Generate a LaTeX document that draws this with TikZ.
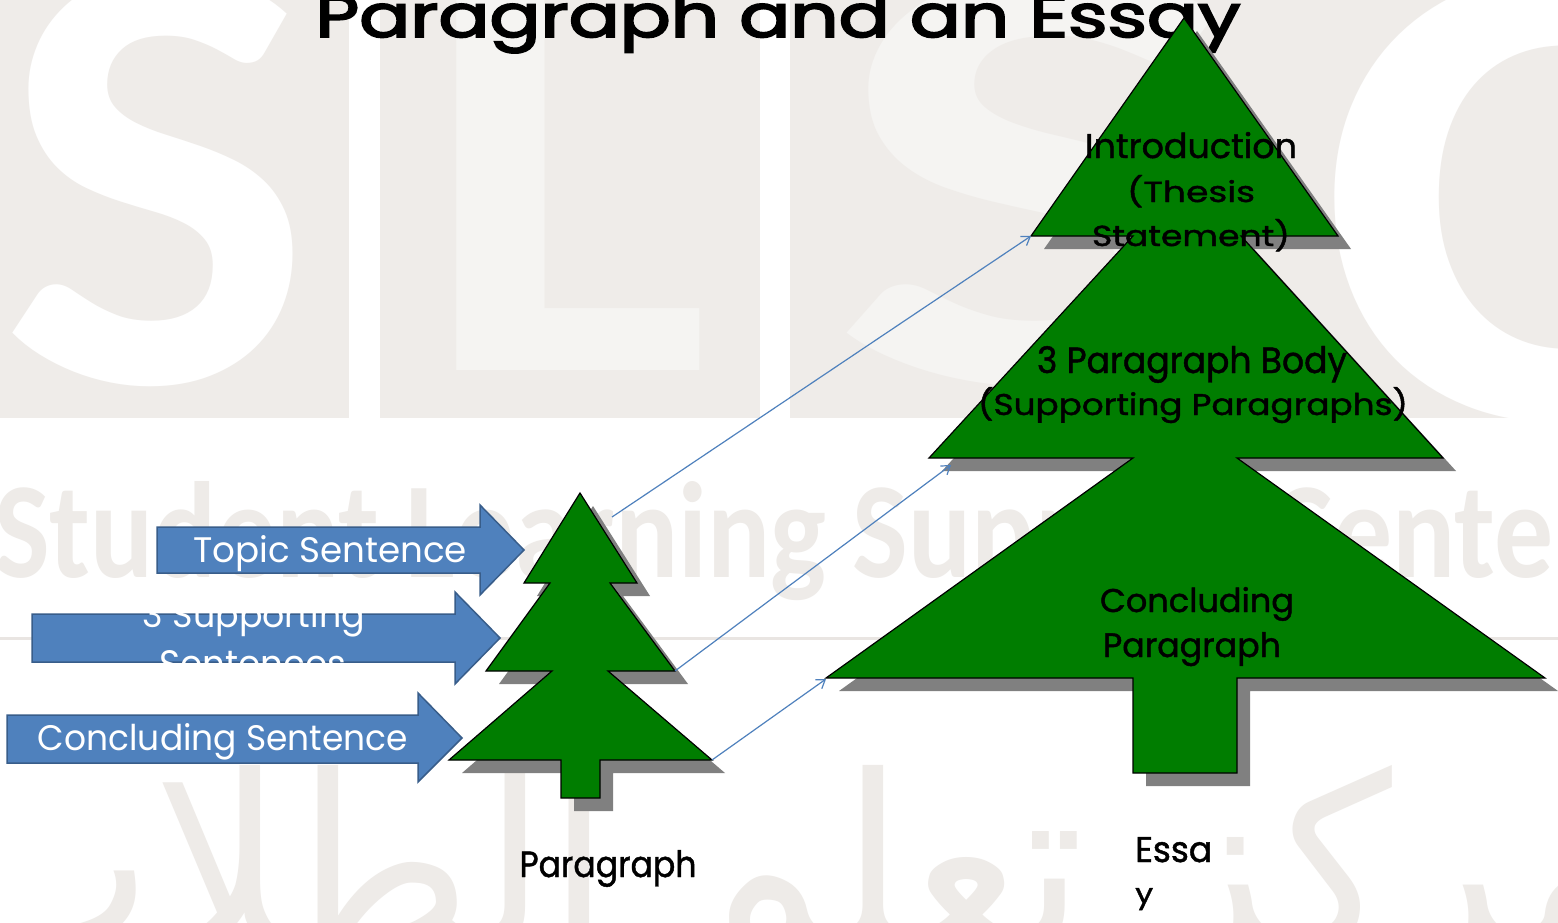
\documentclass[tikz,border=0pt]{standalone}
\usepackage{fontspec}
\usepackage{graphicx}
\usetikzlibrary{arrows.meta}
\newfontfamily\hand{Poppins}
\newfontfamily\handb[FakeBold=1.3]{Poppins}
\newfontfamily\handt[FakeBold=3]{Poppins}
\newfontfamily\wm{Carlito}
\newfontfamily\arabicfont[Script=Arabic]{DejaVu Sans}
\TeXXeTstate=1
\newcommand\fitt[3]{\resizebox{#1pt}{#2pt}{\hand #3}}
\newcommand\fitb[3]{\resizebox{#1pt}{#2pt}{\handb #3}}
\newcommand\fitwm[3]{\resizebox{#1pt}{#2pt}{\wm\bfseries #3}}
\definecolor{treegreen}{RGB}{0,125,0}
\definecolor{shadowgrey}{RGB}{128,128,128}
\definecolor{arrowblue}{RGB}{79,129,189}
\definecolor{arrowedge}{RGB}{56,93,138}
\definecolor{connblue}{RGB}{79,129,189}
\definecolor{band}{RGB}{239,236,233}
\definecolor{bandlight}{RGB}{245,244,242}
\definecolor{wmgrey}{RGB}{238,235,232}
\definecolor{wmline}{RGB}{233,229,226}
\newcommand\smalltree{(580,493) -- (637,583) -- (610,583) -- (675,671) -- (608,671) -- (712,760) -- (600,760) -- (600,798) -- (561,798) -- (561,760) -- (449,760) -- (552,671) -- (486,671) -- (550,583) -- (524,583) -- cycle}
\newcommand\bigtree{(1184,18) -- (1338,236) -- (1241,236) -- (1443,458) -- (1237,458) -- (1545,678) -- (1237,678) -- (1237,773) -- (1133,773) -- (1133,678) -- (826,678) -- (1133,458) -- (929,458) -- (1133,236) -- (1031,236) -- cycle}
\begin{document}
\begin{tikzpicture}[x=1pt,y=-1pt,
  tree/.style={fill=treegreen, draw=black, line width=1.2pt, line join=miter},
  treeshadow/.style={fill=shadowgrey},
  blockarrow/.style={fill=arrowblue, draw=arrowedge, line width=1.5pt, line join=miter},
  conn/.style={draw=connblue, line width=1.2pt, -{Straight Barb[length=8pt,width=11pt]}},
  lbl/.style={inner sep=0pt, anchor=base},
  wmark/.style={inner sep=0pt}]
\useasboundingbox (0,0) rectangle (1558,923);
\clip (0,0) rectangle (1558,923);
\fill[white] (0,0) rectangle (1558,923);
% ---- watermark band ----
\fill[band] (0,0) rectangle (349,418);
\fill[band] (380,0) rectangle (760,418);
\fill[band] (790,0) rectangle (1558,418);
\begin{scope}
  \clip (0,0) rectangle (349,418);
  \node[wmark, anchor=base west, text=white] (wS1) at (0,382) {\fitwm{312}{410}{S}};
\end{scope}
\begin{scope}
  \clip (380,0) rectangle (760,418);
  \node[wmark, anchor=base west, text=bandlight] (wL) at (420,370) {\fitwm{290}{380}{L}};
\end{scope}
\begin{scope}
  \clip (790,0) rectangle (1558,418);
  \node[wmark, anchor=base west, text=bandlight] (wS2) at (830,382) {\fitwm{420}{410}{S}};
  \node[wmark, anchor=base west, text=white] (wC) at (1318,418) {\fitwm{420}{445}{C}};
\end{scope}
\node[wmark, anchor=base west, text=wmgrey] (wStudent) at (-6,577) {\fitwm{1600}{96}{Student Learning Support Center}};
\draw[wmline, line width=3pt] (0,638) -- (1558,638);
\node[wmark, anchor=base, text=wmgrey] (wArabic) at (790,950) {\resizebox{1700pt}{185pt}{\arabicfont\beginR مركز تعلم الطلاب\endR}};
% ---- title ----
\node[lbl] (title) at (778,37) {\resizebox{925pt}{44pt}{\handt Paragraph and an Essay}};
% ---- trees ----
\fill[treeshadow, shift={(13,13)}] \smalltree;
\fill[treeshadow, shift={(13,13)}] \bigtree;
\draw[tree] \smalltree;
\draw[tree] \bigtree;
% ---- block arrows ----
\draw[blockarrow] (157,527) -- (480,527) -- (480,505) -- (524,550) -- (480,595) -- (480,573) -- (157,573) -- cycle;
\draw[blockarrow] (32,614) -- (455,614) -- (455,592) -- (500,638) -- (455,684) -- (455,662) -- (32,662) -- cycle;
\draw[blockarrow] (7,715) -- (418,715) -- (418,693) -- (462,738) -- (418,782) -- (418,763) -- (7,763) -- cycle;
\node[lbl, text=white] (topic) at (330,562) {\fitt{274}{27}{Topic Sentence}};
\begin{scope}
  \clip (32,606) rectangle (455,663);
  \node[lbl, text=white] (supA) at (254,627) {\fitt{222}{27}{3 Supporting}};
  \node[lbl, text=white] (supB) at (253,677) {\fitt{187}{27}{Sentences}};
\end{scope}
\node[lbl, text=white] (concl) at (223,750) {\fitt{370}{27}{Concluding Sentence}};
% ---- tree labels ----
\node[lbl] (intro1) at (1191,158) {\fitb{212}{26}{Introduction}};
\node[lbl] (intro2) at (1191,202) {\fitb{128}{27}{(Thesis}};
\node[lbl] (intro3) at (1191,246) {\fitb{198}{27}{Statement)}};
\node[lbl] (body1) at (1192,373) {\fitb{310}{27}{3 Paragraph Body}};
\node[lbl] (body2) at (1193,415) {\fitb{430}{28}{(Supporting Paragraphs)}};
\node[lbl] (cp1) at (1197,612) {\fitb{194}{25}{Concluding}};
\node[lbl] (cp2) at (1192,657) {\fitb{178}{25}{Paragraph}};
\node[lbl] (para) at (608,877) {\fitb{177}{27}{Paragraph}};
\node[lbl, anchor=base west] (essa1) at (1135,862) {\fitb{77}{25}{Essa}};
\node[lbl, anchor=base west] (essa2) at (1135,903) {\fitb{18}{15}{y}};
% ---- connectors ----
\coordinate (s1) at (612,517);
\coordinate (s2) at (675,671);
\coordinate (s3) at (712,760);
\coordinate (e1) at (1031,236);
\coordinate (e2) at (951,465);
\coordinate (e3) at (826,679);
\draw[conn] (s1) -- (e1);
\draw[conn] (s2) -- (e2);
\draw[conn] (s3) -- (e3);
\end{tikzpicture}
\end{document}
